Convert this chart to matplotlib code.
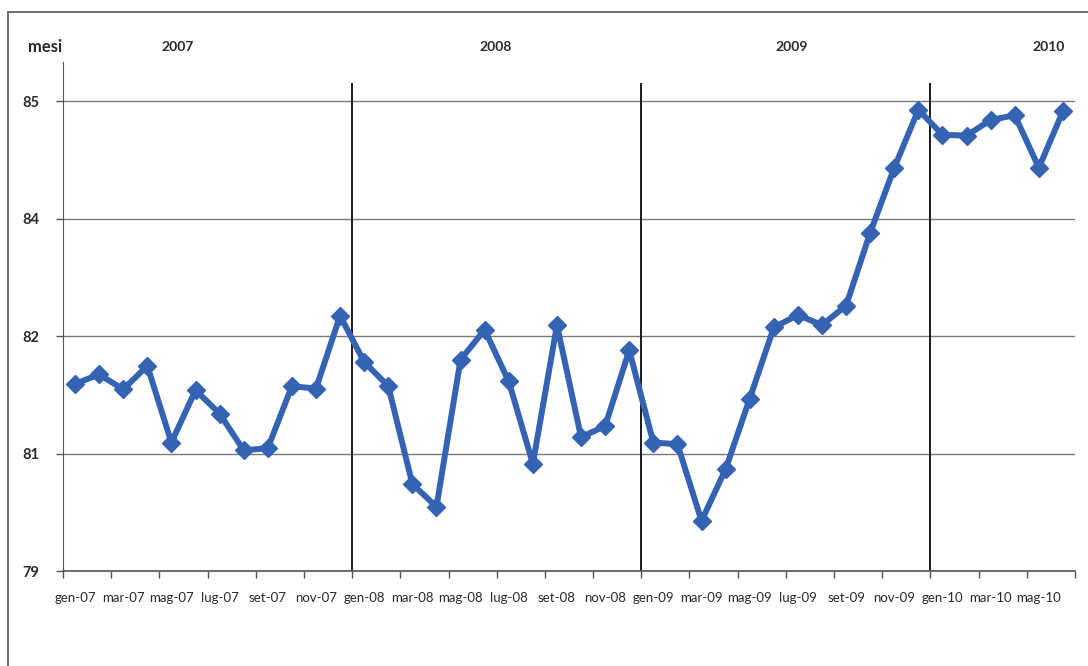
import numpy as np
import matplotlib
matplotlib.use("Agg")
import matplotlib.pyplot as plt
from matplotlib.patches import Rectangle
from matplotlib.ticker import FixedLocator, FuncFormatter

plt.rcParams['font.family'] = ['Lato', 'DejaVu Sans']

# monthly series, gen-07 .. giu-10
mesi_it = ['gen', 'feb', 'mar', 'apr', 'mag', 'giu', 'lug', 'ago', 'set', 'ott', 'nov', 'dic']
months = [m + '-' + y for y in ['07', '08', '09', '10'] for m in mesi_it][:42]
values = [81.39, 81.51, 81.32, 81.62, 80.64, 81.31, 81.01, 80.54, 80.57, 81.36, 81.33, 82.26,
          81.67, 81.36, 80.11, 79.82, 81.70, 82.08, 81.42, 80.37, 82.14, 80.71, 80.85, 81.82,
          80.64, 80.62, 79.64, 80.30, 81.20, 82.11, 82.27, 82.14, 82.39, 83.32, 84.15, 84.89,
          84.57, 84.56, 84.76, 84.82, 84.15, 84.87]
years = ['2007', '2008', '2009', '2010']
year_starts = [12, 24, 36]   # gen-08, gen-09, gen-10

x = np.arange(len(values))

fig = plt.figure(figsize=(10.88, 6.66), dpi=100)
# outer frame of the scanned chart
fig.add_artist(Rectangle((8 / 1088, -0.1), 1.2, 1.1 - 12 / 666, transform=fig.transFigure,
                         fill=False, edgecolor='#555555', linewidth=1.2))

ax = fig.add_axes([63 / 1088, 1 - 571 / 666, (1075 - 63) / 1088, (571 - 62) / 666])
ax.set_xlim(-0.5, len(values) - 0.5)
ax.set_ylim(79, 85.5)

yt = [79, 80.5, 82, 83.5, 85]
ax.yaxis.set_major_locator(FixedLocator(yt))
ax.yaxis.set_major_formatter(FuncFormatter(lambda v, p: str(int(v + 0.5))))
ax.grid(axis='y', color='#7a7a7a', linewidth=1.0)
ax.set_axisbelow(True)

# year separators
ax.vlines([s - 0.5 for s in year_starts], 79, 85.23, color='#1a1a1a', linewidth=1.4, zorder=2)

ax.plot(x, values, color='#3463b4', linewidth=4.3, marker='D', markersize=9,
        markeredgecolor='#3463b4', zorder=3)

# ticks between categories, labels every two months
ax.set_xticks(np.arange(-0.5, len(values), 2))
ax.set_xticklabels([])
ax.set_xticks(x[::2], minor=True)
ax.set_xticklabels(months[::2], minor=True)
ax.tick_params(axis='x', which='major', length=5, width=1, color='#555555', direction='out')
ax.tick_params(axis='x', which='minor', length=0, pad=15, labelsize=9.5, labelcolor='#2a2a2a')
ax.tick_params(axis='y', length=5, width=1, color='#555555', pad=12, labelsize=10.5,
               labelcolor='#2a2a2a')
for lab in ax.get_yticklabels():
    lab.set_fontweight('bold')

for s in ['top', 'right']:
    ax.spines[s].set_visible(False)
ax.spines['left'].set_color('#555555')
ax.spines['bottom'].set_color('#555555')
ax.spines['bottom'].set_linewidth(1.2)

# header texts
fig.text(45 / 1088, 1 - 47 / 666, 'mesi', ha='center', va='center', fontsize=12,
         fontweight='bold', color='#2a2a2a')
for yr, px in zip(years, [178, 496, 792, 1049]):
    fig.text(px / 1088, 1 - 47 / 666, yr, ha='center', va='center', fontsize=10,
             fontweight='bold', color='#2a2a2a')

fig.savefig('out.png', dpi=100)
